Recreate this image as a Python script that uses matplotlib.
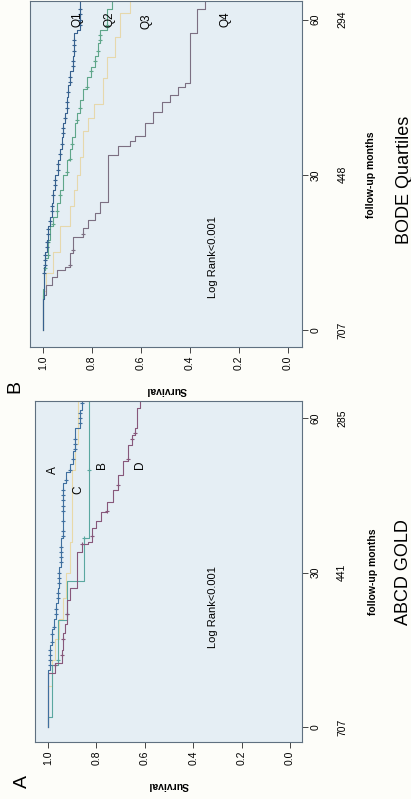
import numpy as np
import matplotlib
matplotlib.use("Agg")
import matplotlib.pyplot as plt
import matplotlib.transforms as mtransforms

plt.rcParams['font.family'] = ['Liberation Sans', 'DejaVu Sans']

# パネルA: ABCD GOLD (時間 = 月, 生存率)
A_time = [0, 11.0, 16.0, 19.0, 21.0, 24.0, 27.0, 31.0, 36.7, 47.4, 49.5, 51.0, 53.5, 58.0, 61.5, 64.0]
A_surv = [1.0, 0.99, 0.983, 0.975, 0.968, 0.96, 0.953, 0.946, 0.937, 0.927, 0.909, 0.895, 0.888, 0.868, 0.861, 0.861]
A_cens = [12, 13, 14, 15, 16.5, 18, 19.5, 22, 23, 25, 26, 28, 29, 30, 32, 33, 34, 35, 37, 38, 40, 42, 43,
          44, 45, 46, 48, 50, 52, 54, 55, 56, 59, 60, 61, 63]

B_time = [0, 2.0, 12.0, 20.8, 28.3, 36.7, 64.0]
B_surv = [1.0, 0.985, 0.96, 0.92, 0.852, 0.83, 0.83]
B_cens = [13, 22, 36.7, 50]

C_time = [0, 8, 13, 17, 21, 25, 30, 36, 50, 55, 64]
C_surv = [1.0, 0.985, 0.97, 0.955, 0.94, 0.925, 0.91, 0.90, 0.89, 0.875, 0.875]

D_time = [0, 10.5, 12.4, 15, 18.2, 20, 24.6, 27, 34, 35.6, 36, 38.6, 40, 41.7, 43.7, 46, 49, 51.6, 54.8, 56.7, 58, 62, 63.5, 64]
D_surv = [1.0, 0.971, 0.943, 0.94, 0.93, 0.92, 0.909, 0.88, 0.86, 0.835, 0.82, 0.80, 0.78, 0.757, 0.73, 0.71, 0.69,
          0.67, 0.654, 0.64, 0.633, 0.62, 0.613, 0.613]
D_cens = [12, 14, 17, 22, 35.6, 37, 42, 47, 52, 56, 57]

# パネルB: BODE四分位
Q1_time = [0, 6, 12.2, 15, 17.4, 20, 21.9, 24.5, 27, 30, 32.8, 35, 37.3, 40, 42, 45, 47.3, 50, 53, 57.4, 58, 64]
Q1_surv = [1.0, 0.995, 0.99, 0.985, 0.978, 0.972, 0.965, 0.958, 0.951, 0.94, 0.931, 0.924, 0.917, 0.91, 0.903,
           0.896, 0.89, 0.876, 0.872, 0.862, 0.849, 0.849]
Q1_cens = [11, 12.5, 13.5, 14.5, 16, 17, 18.5, 19.5, 21, 23, 24, 26, 28, 29, 31, 32, 34, 36, 38, 39, 41, 43,
           44, 46, 48, 49, 51, 52, 54, 55, 56, 59, 60, 61, 62]

Q2_time = [0, 8, 11.5, 14, 17.4, 20, 21.9, 24.5, 27, 30, 32.8, 35, 37.3, 40, 42, 44.5, 46.6, 49, 50.9, 53, 55.4,
           58, 62, 64]
Q2_surv = [1.0, 0.995, 0.99, 0.98, 0.971, 0.958, 0.944, 0.93, 0.917, 0.903, 0.89, 0.88, 0.869, 0.86, 0.849, 0.835,
           0.822, 0.805, 0.788, 0.775, 0.767, 0.74, 0.72, 0.72]
Q2_cens = [12, 14.5, 17, 20.5, 23, 26, 30.5, 33, 36, 40.5, 43, 47, 50, 52, 54, 56, 57, 58.5, 59]

Q3_time = [0, 7.5, 11, 15, 20, 24, 27, 30, 33.4, 38.5, 41, 43.6, 48.8, 52.7, 56.6, 61.2, 64]
Q3_surv = [1.0, 0.986, 0.96, 0.931, 0.89, 0.875, 0.862, 0.85, 0.835, 0.816, 0.79, 0.755, 0.74, 0.706, 0.686,
           0.645, 0.645]

Q4_time = [0, 6.8, 8.7, 10.3, 11.6, 12.2, 14.9, 18.0, 19.7, 21.3, 22.6, 24.8, 33.8, 35.6, 36.5, 37.5, 40.0,
           42.2, 44, 45.5, 47, 47.8, 57.4, 62.0, 64]
Q4_surv = [1.0, 0.988, 0.965, 0.944, 0.91, 0.89, 0.876, 0.835, 0.815, 0.788, 0.767, 0.733, 0.694, 0.645, 0.624,
           0.584, 0.55, 0.516, 0.482, 0.449, 0.42, 0.40, 0.37, 0.34, 0.34]
Q4_cens = [12.5, 15.5, 18.5]

surv_ticks = [0.0, 0.2, 0.4, 0.6, 0.8, 1.0]
time_ticks = [0, 30, 60]
A_risk = ['707', '441', '285']
B_risk = ['707', '448', '294']

W, H = 411, 799


def fx(px):
    return px / W


def fy(py):
    return 1 - py / H


def km(ax, t, s, color, cens=None, lw=0.8):
    # 回転した図: 横軸=生存率, 縦軸=時間
    ax.plot(s, t, drawstyle='steps-pre', color=color, lw=lw)
    if cens:
        idx = np.searchsorted(t, cens, side='left') - 1
        idx = np.clip(idx, 0, len(s) - 1)
        ax.plot(np.array(s)[idx], cens, ls='none', marker='+', ms=3.5, mew=0.8, color=color)


def setup(ax, xlim, ylim, risk):
    ax.set_facecolor('#e5eef4')
    ax.set_xlim(*xlim)
    ax.set_ylim(*ylim)
    for sp in ax.spines.values():
        sp.set_color('#5f7080')
        sp.set_linewidth(0.8)
    ax.set_xticks(surv_ticks)
    ax.set_xticklabels([f'{v:.1f}' for v in surv_ticks], rotation=90)
    ax.yaxis.tick_right()
    ax.set_yticks(time_ticks)
    ax.set_yticklabels([str(v) for v in time_ticks], rotation=90, va='center')
    ax.tick_params(axis='both', labelsize=7.5, length=4, width=0.7, color='#444444', pad=2)
    trans = mtransforms.blended_transform_factory(ax.transAxes, ax.transData)
    for t, r in zip(time_ticks, risk):
        ax.text(1.15, t, r, transform=trans, rotation=90, ha='center', va='center', fontsize=7.5)


fig = plt.figure(figsize=(W / 100, H / 100), dpi=100)
fig.patch.set_facecolor('#fdfdf9')

# パネルA
axA = fig.add_axes([fx(35), fy(742), fx(302) - fx(35), fy(401) - fy(742)])
setup(axA, (1.054, -0.05), (-2.9, 63.3), A_risk)
km(axA, C_time, C_surv, '#e8d9a8')
km(axA, B_time, B_surv, '#5aa7a0', B_cens)
km(axA, D_time, D_surv, '#87577a', D_cens)
km(axA, A_time, A_surv, '#3f6f9f', A_cens)
axA.text(0.979, 49.9, 'A', rotation=90, ha='center', va='center', fontsize=8.5)
axA.text(0.876, 46.0, 'C', rotation=90, ha='center', va='center', fontsize=8.5)
axA.text(0.777, 50.9, 'B', rotation=90, ha='center', va='center', fontsize=8.5)
axA.text(0.620, 50.9, 'D', rotation=90, ha='center', va='center', fontsize=8.5)
axA.text(0.318, 23.3, 'Log Rank<0.001', rotation=90, ha='center', va='center', fontsize=8)

# パネルB
axB = fig.add_axes([fx(30), fy(347), fx(302) - fx(30), fy(1) - fy(347)])
setup(axB, (1.053, -0.057), (-3.3, 63.6), B_risk)
km(axB, Q3_time, Q3_surv, '#e6d8ac')
km(axB, Q4_time, Q4_surv, '#7c6f82', Q4_cens)
km(axB, Q2_time, Q2_surv, '#5fa68a', Q2_cens)
km(axB, Q1_time, Q1_surv, '#36608e', Q1_cens)
axB.text(0.861, 60, 'Q1', rotation=90, ha='center', va='center', fontsize=8.5)
axB.text(0.727, 60, 'Q2', rotation=90, ha='center', va='center', fontsize=8.5)
axB.text(0.576, 59.6, 'Q3', rotation=90, ha='center', va='center', fontsize=8.5)
axB.text(0.257, 60, 'Q4', rotation=90, ha='center', va='center', fontsize=8.5)
axB.text(0.306, 14.1, 'Log Rank<0.001', rotation=90, ha='center', va='center', fontsize=8)

# 軸ラベルとタイトル
fig.text(fx(168), fy(785), 'Survival', rotation=180, ha='center', va='center', fontsize=7.5, fontweight='bold')
fig.text(fx(166), fy(390), 'Survival', rotation=180, ha='center', va='center', fontsize=7.5, fontweight='bold')
fig.text(fx(373), fy(572), 'follow-up months', rotation=90, ha='center', va='center', fontsize=7.5, fontweight='bold')
fig.text(fx(371), fy(175), 'follow-up months', rotation=90, ha='center', va='center', fontsize=7.5, fontweight='bold')
fig.text(fx(403), fy(572), 'ABCD GOLD', rotation=90, ha='center', va='center', fontsize=13)
fig.text(fx(404), fy(180), 'BODE Quartiles', rotation=90, ha='center', va='center', fontsize=13)
fig.text(fx(22), fy(781), 'A', rotation=90, ha='center', va='center', fontsize=14)
fig.text(fx(15), fy(387), 'B', rotation=90, ha='center', va='center', fontsize=14)

fig.savefig('out.png', dpi=100, facecolor=fig.get_facecolor())
